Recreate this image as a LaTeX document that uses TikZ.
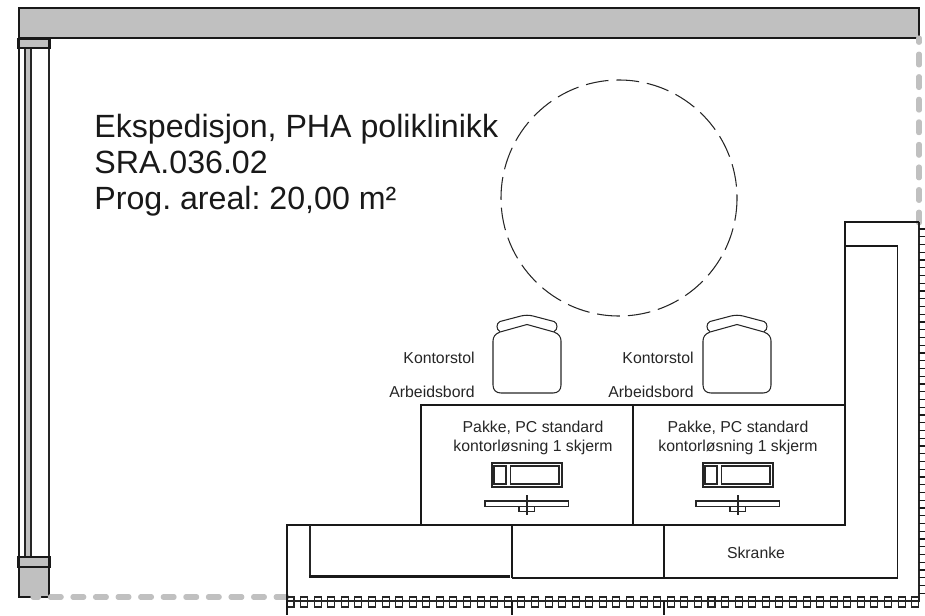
\documentclass[tikz,border=0pt]{standalone}
\usepackage{fontspec}
\setmainfont{Liberation Sans}
\frenchspacing
\definecolor{wallgray}{HTML}{C0C0C0}
\tikzset{
  planline/.style={line width=0.8pt,draw=black!90},
  thinplan/.style={line width=0.6pt,draw=black!85},
  heavyline/.style={line width=1.5pt,draw=black!90},
  boundary/.style={line width=2.9pt,draw=wallgray,line cap=round,dash pattern=on 6.2pt off 6.65pt},
  smalltext/.style={font=\fontsize{9}{10}\selectfont,text=black!85,inner sep=0pt},
  bigtext/.style={font=\fontsize{18.3}{20}\selectfont,text=black!90,inner sep=0pt,anchor=base west}
}
\newcommand{\pcset}[1]{%
  \begin{scope}[xshift=#1*0.02cm]
  \draw[thinplan] (492,463) rectangle (562,487); %monitor
  \draw[thinplan] (494,466) rectangle (506,484);
  \draw[thinplan] (510.5,466) rectangle (559,484);
  \draw[thinplan] (485,501) rectangle (568.5,506.5); %keyboard
  \draw[thinplan] (519,506.5) rectangle (534.5,511.5);
  \draw[thinplan] (527,495) -- (527,515);
  \end{scope}}
\newcommand{\chairset}[1]{%
  \begin{scope}[xshift=#1*0.02cm]
  \draw[thinplan] (500,332) -- (527,324.5) -- (554,332) .. controls (559,334) and (561,337) .. (561,341)
    -- (561,385) .. controls (561,390) and (558,393) .. (553,393) -- (501,393)
    .. controls (496,393) and (493,390) .. (493,385) -- (493,341) .. controls (493,337) and (495,334) .. (500,332); %seat
  \draw[thinplan] (500,331.5) .. controls (496,330) and (496,323) .. (500,321.5) -- (521,316)
    .. controls (525,315) and (529,315) .. (533,316) -- (554,321.5) .. controls (558,323) and (558,330) .. (554,331.5); %back
  \end{scope}}
\begin{document}
\begin{tikzpicture}[x=0.02cm,y=-0.02cm]
\useasboundingbox (0,0) rectangle (925,615);
%walls
\draw[fill=wallgray,planline] (19,8) rectangle (919,38);
\draw[fill=wallgray,planline] (19,567) rectangle (49,597);
\draw[boundary] (919,223) -- (919,38);
\draw[boundary] (287,597) -- (33,597);
%window
\draw[fill=wallgray,thinplan] (25,48) rectangle (31,557);
\draw[planline] (19,48) -- (19,557);
\draw[thinplan] (49,48) -- (49,557);
\draw[fill=wallgray,heavyline] (18.5,39) rectangle (49.5,48);
\draw[fill=wallgray,heavyline] (18.5,557) rectangle (49.5,567);
%outer wall with marks
\draw[thinplan] (287,601) -- (919,601) -- (919,222);
\foreach \i in {0,...,46}
  \draw[thinplan] (287+\i*13.58,597) rectangle (294+\i*13.58,607);
\foreach \i in {0,...,47}
  \draw[planline] (919,229+\i*7.75) -- (925,229+\i*7.75);
\draw[planline] (287,597) -- (287,615);
\draw[planline] (512,601) -- (512,615);
\draw[planline] (664,601) -- (664,615);
%counter
\draw[planline] (287,597) -- (287,525) -- (845,525) -- (845,222) -- (919,222);
\draw[planline] (845,246) -- (897.5,246) -- (897.5,578) -- (512,578);
\draw[thinplan] (310,525) -- (310,576);
\draw[line width=2pt,draw=black!90] (309,576.5) -- (510,576.5);
\draw[planline] (512,525) -- (512,578);
\draw[planline] (664,525) -- (664,578);
%desks
\draw[planline] (421,405) rectangle (633,525);
\draw[planline] (633,405) rectangle (845,525);
\pcset{0}
\pcset{211}
\chairset{0}
\chairset{210}
%clearance circle
\draw[thinplan,dash pattern=on 13pt off 4.5pt] (619,198) circle (118);
%labels
\node[bigtext] (title) at (94,137) {Ekspedisjon, PHA poliklinikk};
\node[bigtext] (code) at (94,173) {SRA.036.02};
\node[bigtext] (area) at (94,209) {Prog. areal: 20,00 m²};
\node[smalltext,anchor=east] (chairA) at (475,358) {Kontorstol};
\node[smalltext,anchor=east] (chairB) at (694,358) {Kontorstol};
\node[smalltext,anchor=east] (deskA) at (475,392) {Arbeidsbord};
\node[smalltext,anchor=east] (deskB) at (694,392) {Arbeidsbord};
\node[smalltext] (pcA) at (533,428) {Pakke, PC standard};
\node[smalltext] (pcAb) at (533,447) {kontorløsning 1 skjerm};
\node[smalltext] (pcB) at (738,428) {Pakke, PC standard};
\node[smalltext] (pcBb) at (738,447) {kontorløsning 1 skjerm};
\node[smalltext] (desk) at (756,553) {Skranke};
\end{tikzpicture}
\end{document}
